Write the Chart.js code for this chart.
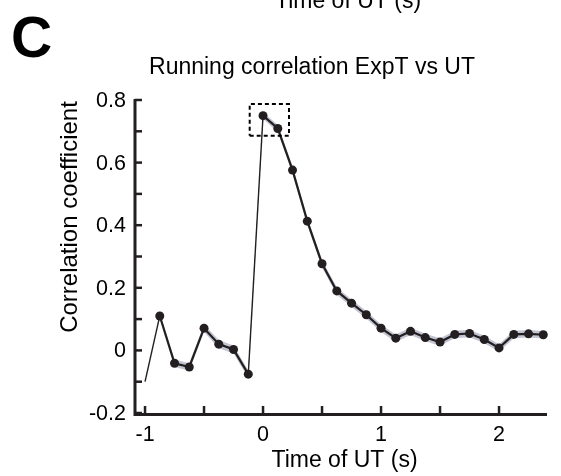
<!DOCTYPE html>
<html>
<head>
<meta charset="utf-8">
<script src="https://cdn.jsdelivr.net/npm/chart.js@4/dist/chart.umd.min.js"></script>
<style>
html,body{margin:0;padding:0;background:#fff;}
#wrap{position:relative;width:561px;height:476px;}
</style>
</head>
<body>
<div id="wrap"><canvas id="c" width="561" height="476"></canvas></div>
<script>
// ---- data ----
const timeOfUT = [-1, -0.875, -0.75, -0.625, -0.5, -0.375, -0.25, -0.125, 0, 0.125, 0.25, 0.375, 0.5, 0.625, 0.75, 0.875, 1.0, 1.125, 1.25, 1.375, 1.5, 1.625, 1.75, 1.875, 2.0, 2.125, 2.25, 2.375];
const correlation = [-0.10, 0.11, -0.041, -0.053, 0.071, 0.020, 0.003, -0.076, 0.750, 0.709, 0.576, 0.413, 0.277, 0.190, 0.151, 0.114, 0.071, 0.039, 0.061, 0.041, 0.027, 0.051, 0.054, 0.035, 0.008, 0.051, 0.053, 0.050];
const sem = [null, 0.008, 0.012, 0.012, 0.012, 0.013, 0.013, 0.012, 0.010, 0.012, 0.012, 0.012, 0.012, 0.012, 0.012, 0.012, 0.012, 0.012, 0.012, 0.012, 0.012, 0.012, 0.012, 0.012, 0.012, 0.012, 0.012, 0.012];
const highlightBoxX = [-0.113, 0.22];
const highlightBoxY = [0.686, 0.787];
const xTicks = [-1, -0.5, 0, 0.5, 1, 1.5, 2];
const xTickLabels = ['-1', '', '0', '', '1', '', '2'];
const yTicks = [-0.2, -0.1, 0, 0.1, 0.2, 0.3, 0.4, 0.5, 0.6, 0.7, 0.8];
const yTickLabels = ['-0.2', '', '0', '', '0.2', '', '0.4', '', '0.6', '', '0.8'];
const panelLetter = 'C';
const chartTitle = 'Running correlation ExpT vs UT';
const xTitle = 'Time of UT (s)';
const yTitle = 'Correlation coefficient';
const prevPanelXTitle = 'Time of UT (s)';

// ---- derived ----
const mainPts = timeOfUT.map((x, i) => ({x, y: correlation[i]}));
const upperPts = timeOfUT.map((x, i) => ({x, y: sem[i] == null ? null : correlation[i] + sem[i]}));
const lowerPts = timeOfUT.map((x, i) => ({x, y: sem[i] == null ? null : correlation[i] - sem[i]}));
const boxPts = [
  {x: highlightBoxX[0], y: highlightBoxY[0]}, {x: highlightBoxX[1], y: highlightBoxY[0]},
  {x: highlightBoxX[1], y: highlightBoxY[1]}, {x: highlightBoxX[0], y: highlightBoxY[1]},
  {x: highlightBoxX[0], y: highlightBoxY[0]}
];

const INK = '#231f20';
const FONT = '"Liberation Sans", Arial, Helvetica, sans-serif';

function drawText(ctx, text, x, y, font, align, baseline) {
  ctx.save();
  ctx.font = font;
  ctx.textAlign = align;
  ctx.textBaseline = baseline;
  ctx.fillText(text, x, y);
  ctx.restore();
}

const axesPlugin = {
  id: 'axesPlugin',
  afterDraw(chart) {
    const ctx = chart.ctx;
    const xs = chart.scales.x, ys = chart.scales.y;
    const a = chart.chartArea;
    ctx.save();
    ctx.strokeStyle = INK;
    ctx.fillStyle = '#000';
    ctx.lineWidth = 3;
    ctx.beginPath();
    ctx.moveTo(a.left, ys.getPixelForValue(0.8) - 1);
    ctx.lineTo(a.left, a.bottom + 1.5);
    ctx.lineTo(a.right, a.bottom + 1.5);
    ctx.stroke();
    ctx.lineWidth = 2.5;
    yTicks.forEach((v, i) => {
      const py = ys.getPixelForValue(v);
      ctx.beginPath();
      ctx.moveTo(a.left, py);
      ctx.lineTo(a.left + 7, py);
      ctx.stroke();
      if (yTickLabels[i]) drawText(ctx, yTickLabels[i], a.left - 9, py + 1, '21.5px ' + FONT, 'right', 'middle');
    });
    xTicks.forEach((v, i) => {
      const px = xs.getPixelForValue(v);
      ctx.beginPath();
      ctx.moveTo(px, a.bottom + 1.5);
      ctx.lineTo(px, a.bottom - 7);
      ctx.stroke();
      if (xTickLabels[i]) drawText(ctx, xTickLabels[i], px, 441, '21.5px ' + FONT, 'center', 'alphabetic');
    });
    drawText(ctx, xTitle, 344.5, 467, '23px ' + FONT, 'center', 'alphabetic');
    drawText(ctx, prevPanelXTitle, 348, 8, '23px ' + FONT, 'center', 'alphabetic');
    drawText(ctx, chartTitle, 312, 74, '23px ' + FONT, 'center', 'alphabetic');
    drawText(ctx, panelLetter, 11, 57, 'bold 57px ' + FONT, 'left', 'alphabetic');
    ctx.save();
    ctx.translate(77, 217);
    ctx.rotate(-Math.PI / 2);
    ctx.font = '24px ' + FONT;
    ctx.textAlign = 'center';
    ctx.textBaseline = 'alphabetic';
    ctx.fillText(yTitle, 0, 0);
    ctx.restore();
    ctx.restore();
  }
};

new Chart(document.getElementById('c'), {
  type: 'line',
  data: {
    datasets: [
      {
        label: 'upper', data: upperPts, borderWidth: 0, pointRadius: 0,
        backgroundColor: 'rgba(192,193,208,0.95)', fill: '+1', spanGaps: false, order: 3, clip: false
      },
      {
        label: 'lower', data: lowerPts, borderWidth: 0, pointRadius: 0,
        backgroundColor: 'rgba(192,193,208,0.95)', fill: false, spanGaps: false, order: 3, clip: false
      },
      {
        label: 'corr', data: mainPts, borderColor: INK, borderWidth: 2,
        pointRadius: timeOfUT.map((_, i) => i === 0 ? 0 : 4.5),
        pointBackgroundColor: INK, pointBorderWidth: 0, fill: false, order: 1, clip: false,
        segment: {
          borderWidth: c => (c.p0DataIndex === 0 || c.p0DataIndex === 7) ? 1.4 : 2.2
        }
      },
      {
        label: 'box', data: boxPts, borderColor: '#000', borderWidth: 2, borderDash: [4, 3],
        pointRadius: 0, fill: false, order: 0, clip: false
      }
    ]
  },
  options: {
    responsive: false,
    animation: false,
    devicePixelRatio: 1,
    layout: {padding: {left: 135, right: 14, top: 100, bottom: 63}},
    plugins: {legend: {display: false}, tooltip: {enabled: false}, title: {display: false}},
    scales: {
      x: {type: 'linear', min: -1.085, max: 2.4065, display: false},
      y: {type: 'linear', min: -0.2, max: 0.8, display: false}
    },
    elements: {line: {tension: 0}}
  },
  plugins: [axesPlugin]
});
</script>
</body>
</html>
